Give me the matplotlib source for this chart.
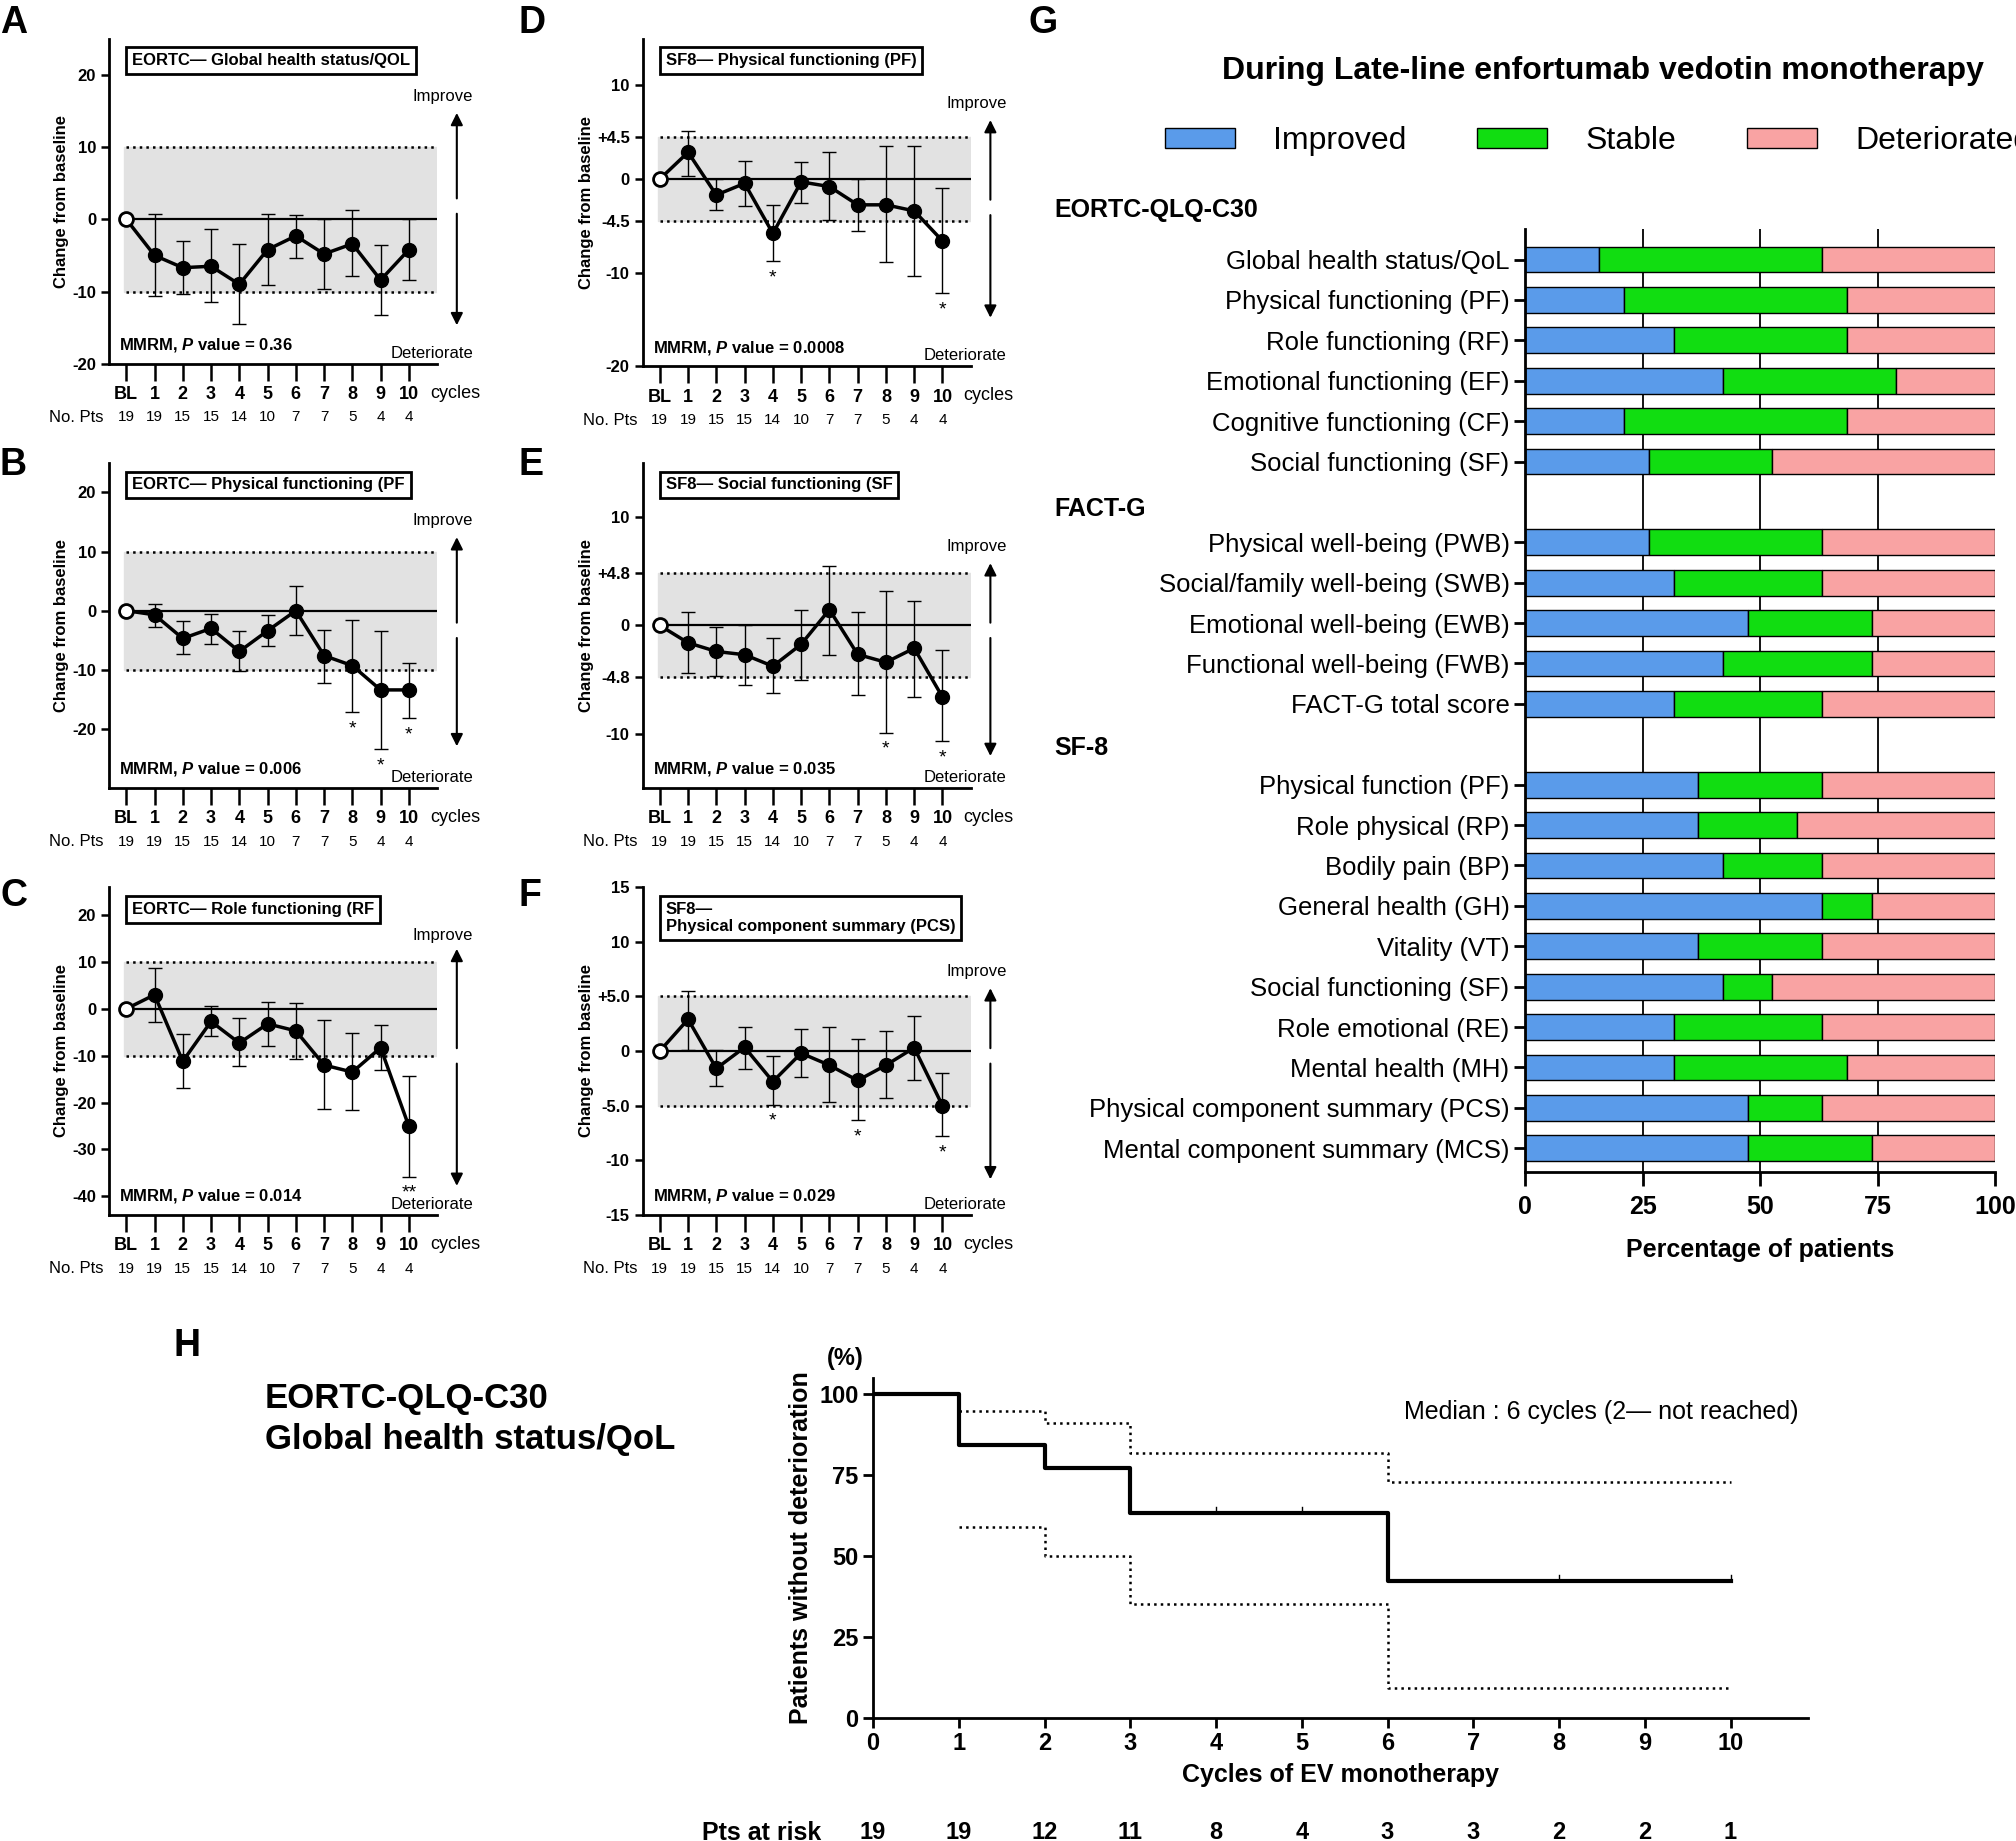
import matplotlib
matplotlib.use("Agg")
import matplotlib.pyplot as plt
import matplotlib.transforms as mtrans
from matplotlib.patches import Patch
import numpy as np

plt.rcParams['font.family'] = ['Liberation Sans', 'DejaVu Sans']
plt.rcParams['mathtext.fontset'] = 'custom'
plt.rcParams['mathtext.it'] = 'Liberation Sans:italic:bold'
plt.rcParams['mathtext.rm'] = 'Liberation Sans:bold'

cycles = ['BL', '1', '2', '3', '4', '5', '6', '7', '8', '9', '10']
n_pts = [19, 19, 15, 15, 14, 10, 7, 7, 5, 4, 4]

# Panel A
A_mean = [0, -5, -6.7, -6.5, -9, -4.2, -2.3, -4.8, -3.4, -8.4, -4.2]
A_up = [0, 0.7, -3, -1.3, -3.4, 0.7, 0.6, 0, 1.3, -3.6, 0]
A_lo = [0, -10.6, -10.3, -11.5, -14.5, -9.1, -5.4, -9.6, -7.9, -13.2, -8.4]
# Panel B
B_mean = [0, -0.7, -4.7, -3, -6.9, -3.4, 0, -7.6, -9.3, -13.4, -13.4]
B_up = [0, 1.2, -1.7, -0.5, -3.4, -0.7, 4.1, -3.2, -1.6, -3.5, -8.8]
B_lo = [0, -2.8, -7.3, -5.7, -10.2, -6, -4.1, -12.2, -17.2, -23.4, -18.2]
# Panel C
C_mean = [0, 3, -11.2, -2.7, -7.3, -3.2, -4.7, -12, -13.5, -8.3, -25.1]
C_up = [0, 8.8, -5.3, 0.6, -2, 1.5, 1.3, -2.4, -5.2, -3.5, -14.3]
C_lo = [0, -2.9, -17, -5.8, -12.3, -8, -10.8, -21.3, -21.5, -13.1, -35.8]
# Panel D
D_mean = [0, 2.86, -1.7, -0.46, -5.8, -0.3, -0.8, -2.75, -2.75, -3.4, -6.6]
D_up = [0, 5.1, 0, 1.9, -2.8, 1.8, 2.9, 0, 3.5, 3.5, -1]
D_lo = [0, 0.36, -3.3, -2.9, -8.8, -2.6, -4.4, -5.5, -8.9, -10.3, -12.2]
# Panel E
E_mean = [0, -1.6, -2.4, -2.7, -3.76, -1.74, 1.46, -2.67, -3.4, -2.1, -6.6]
E_up = [0, 1.2, -0.1, 0.06, -1.2, 1.46, 5.5, 1.2, 3.2, 2.3, -2.3]
E_lo = [0, -4.35, -4.7, -5.5, -6.2, -5, -2.7, -6.4, -9.9, -6.6, -10.7]
# Panel F
F_mean = [0, 2.9, -1.6, 0.34, -2.8, -0.2, -1.3, -2.7, -1.3, 0.3, -5]
F_up = [0, 5.5, 0.1, 2.2, -0.43, 2, 2.2, 1.1, 1.8, 3.2, -2]
F_lo = [0, 0.1, -3.2, -1.65, -4.9, -2.4, -4.7, -6.3, -4.3, -2.7, -7.8]

# Panel G
g_labels = ['Global health status/QoL', 'Physical functioning (PF)', 'Role functioning (RF)',
            'Emotional functioning (EF)', 'Cognitive functioning (CF)', 'Social functioning (SF)',
            'Physical well-being (PWB)', 'Social/family well-being (SWB)', 'Emotional well-being (EWB)',
            'Functional well-being (FWB)', 'FACT-G total score',
            'Physical function (PF)', 'Role physical (RP)', 'Bodily pain (BP)', 'General health (GH)',
            'Vitality (VT)', 'Social functioning (SF)', 'Role emotional (RE)', 'Mental health (MH)',
            'Physical component summary (PCS)', 'Mental component summary (MCS)']
g_improved = [15.8, 21.1, 31.6, 42.1, 21.1, 26.3, 26.3, 31.6, 47.4, 42.1, 31.6,
              36.8, 36.8, 42.1, 63.2, 36.8, 42.1, 31.6, 31.6, 47.4, 47.4]
g_stable = [47.4, 47.4, 36.8, 36.8, 47.4, 26.3, 36.8, 31.6, 26.3, 31.6, 31.6,
            26.3, 21.1, 21.1, 10.5, 26.3, 10.5, 31.6, 36.8, 15.8, 26.3]
g_sections = ['EORTC-QLQ-C30', 'FACT-G', 'SF-8']
g_section_sizes = [6, 5, 10]

# Panel H
km_t = [0, 1, 2, 3, 6, 10]
km_s = [100, 84.2, 77.2, 63.2, 42.1, 42.1]
ci_t = [1, 2, 3, 6, 10]
ci_up = [95, 91, 82, 73, 73]
ci_lo = [59, 50, 35, 9, 9]
censor_t = [4, 5, 8, 10]
risk = [19, 19, 12, 11, 8, 4, 3, 3, 2, 2, 1]

W, H = 2016, 1841
fig = plt.figure(figsize=(W / 100, H / 100), dpi=100)


def fx(px):
    return px / 1568


def fy(py):
    return 1 - py / 1432


def line_panel(rect, mean, up, lo, ylim, yticks, ylabels, band, title, pval, stars, starsym,
               arrow_top, arrow_bot, improve_y):
    ax = fig.add_axes(rect)
    x = np.arange(len(mean))
    ax.axhspan(-band, band, color='#e2e2e2', zorder=0, xmin=0.045, xmax=1)
    ax.plot([0, 11], [band, band], ls=':', color='k', lw=1.8, zorder=1)
    ax.plot([0, 11], [-band, -band], ls=':', color='k', lw=1.8, zorder=1)
    ax.plot([0, 11], [0, 0], color='k', lw=1.6, zorder=1)
    m = np.array(mean); u = np.array(up); l = np.array(lo)
    ax.errorbar(x[1:], m[1:], yerr=[m[1:] - l[1:], u[1:] - m[1:]], fmt='none', ecolor='k',
                elinewidth=1, capsize=5, capthick=1, zorder=2)
    ax.plot(x, m, color='k', lw=2.5, zorder=3)
    ax.plot(x[1:], m[1:], 'o', color='k', ms=10, zorder=4)
    ax.plot([0], [0], 'o', mfc='white', mec='k', mew=2, ms=10, zorder=5)
    ax.set_xlim(-0.6, 11)
    ax.set_ylim(*ylim)
    ax.set_yticks(yticks)
    ax.set_yticklabels(ylabels, fontweight='bold', fontsize=12)
    ax.set_xticks(x)
    ax.set_xticklabels(cycles, fontweight='bold', fontsize=13)
    ax.tick_params(axis='x', length=12, width=1.8, pad=4)
    ax.tick_params(axis='y', length=6, width=1.8)
    for s in ['top', 'right']:
        ax.spines[s].set_visible(False)
    for s in ['left', 'bottom']:
        ax.spines[s].set_linewidth(2)
    ax.set_ylabel('Change from baseline', fontweight='bold', fontsize=12, labelpad=2)
    tr = mtrans.blended_transform_factory(ax.transData, ax.transAxes)
    ax.text(10.75, -0.09, 'cycles', transform=tr, fontsize=13, va='center')
    ax.text(-0.8, -0.165, 'No. Pts', transform=tr, fontsize=12, va='center', ha='right')
    for xi, n in zip(x, n_pts):
        ax.text(xi, -0.165, str(n), transform=tr, fontsize=11, ha='center', va='center')
    ax.text(0.07, 0.955, title, transform=ax.transAxes, fontsize=12, fontweight='bold', va='top',
            bbox=dict(boxstyle='square,pad=0.35', fc='white', ec='k', lw=2))
    ax.text(0.03, 0.03, 'MMRM, $\\it{P}$ value = ' + pval, transform=ax.transAxes,
            fontsize=12, fontweight='bold', va='bottom')
    rng = ylim[1] - ylim[0]
    for s in stars:
        ax.text(s, lo[s] - 0.025 * rng, starsym, ha='center', va='top', fontsize=14)
    ax.annotate('', xy=(1.06, arrow_top), xytext=(1.06, 0.5), xycoords='axes fraction',
                arrowprops=dict(arrowstyle='-|>', color='k', lw=1.5, mutation_scale=18))
    ax.annotate('', xy=(1.06, arrow_bot), xytext=(1.06, 0.47), xycoords='axes fraction',
                arrowprops=dict(arrowstyle='-|>', color='k', lw=1.5, mutation_scale=18))
    ax.text(1.11, improve_y, 'Improve', transform=ax.transAxes, fontsize=12, ha='right', va='bottom')
    ax.text(1.11, 0.01, 'Deteriorate', transform=ax.transAxes, fontsize=12, ha='right', va='bottom')
    return ax


def rect(x0, x1, y0, y1):
    return [fx(x0), fy(y1), fx(x1) - fx(x0), fy(y0) - fy(y1)]


line_panel(rect(85, 340, 30, 283), A_mean, A_up, A_lo, (-20, 25), [-20, -10, 0, 10, 20],
           ['-20', '-10', '0', '10', '20'], 10, 'EORTC\u2014 Global health status/QOL', '0.36', [], '*',
           0.78, 0.11, 0.8)
line_panel(rect(500, 755, 30, 285), D_mean, D_up, D_lo, (-20, 15), [-20, -10, -4.5, 0, 4.5, 10],
           ['-20', '-10', '-4.5', '0', '+4.5', '10'], 4.5, 'SF8\u2014 Physical functioning (PF)', '0.0008',
           [4, 10], '*', 0.76, 0.14, 0.78)
line_panel(rect(85, 340, 360, 613), B_mean, B_up, B_lo, (-30, 25), [-20, -10, 0, 10, 20],
           ['-20', '-10', '0', '10', '20'], 10, 'EORTC\u2014 Physical functioning (PF', '0.006',
           [8, 9, 10], '*', 0.78, 0.12, 0.8)
line_panel(rect(500, 755, 360, 613), E_mean, E_up, E_lo, (-15, 15), [-10, -4.8, 0, 4.8, 10],
           ['-10', '-4.8', '0', '+4.8', '10'], 4.8, 'SF8\u2014 Social functioning (SF', '0.035',
           [8, 10], '*', 0.7, 0.09, 0.72)
line_panel(rect(85, 340, 690, 945), C_mean, C_up, C_lo, (-44, 26), [-40, -30, -20, -10, 0, 10, 20],
           ['-40', '-30', '-20', '-10', '0', '10', '20'], 10, 'EORTC\u2014 Role functioning (RF', '0.014',
           [10], '**', 0.82, 0.08, 0.83)
line_panel(rect(500, 755, 690, 945), F_mean, F_up, F_lo, (-15, 15), [-15, -10, -5, 0, 5, 10, 15],
           ['-15', '-10', '-5.0', '0', '+5.0', '10', '15'], 5, 'SF8\u2014\nPhysical component summary (PCS)',
           '0.029', [4, 7, 10], '*', 0.7, 0.1, 0.72)

# Panel G
axg = fig.add_axes(rect(1186, 1552, 178, 912))
ypos = []
start = 0
for size in g_section_sizes:
    ypos.extend(range(start, start + size))
    start += size + 1
ypos = np.array(ypos)
imp = np.array(g_improved); stb = np.array(g_stable); det = 100 - imp - stb
for xv in [25, 50, 75]:
    axg.axvline(xv, color='k', lw=1.3, zorder=0)
kw = dict(height=0.64, edgecolor='k', linewidth=1, zorder=2)
axg.barh(ypos, imp, color='#5a9bea', **kw)
axg.barh(ypos, stb, left=imp, color='#11dd11', **kw)
axg.barh(ypos, det, left=imp + stb, color='#f9a3a3', **kw)
axg.set_ylim(22.6, -0.76)
axg.set_xlim(0, 100)
axg.set_yticks(ypos)
axg.set_yticklabels(g_labels, fontsize=18.5)
axg.set_xticks([0, 25, 50, 75, 100])
axg.set_xticklabels(['0', '25', '50', '75', '100'], fontweight='bold', fontsize=18)
axg.tick_params(axis='y', length=8, width=2, pad=3)
axg.tick_params(axis='x', length=10, width=2, pad=6)
for s in ['top', 'right']:
    axg.spines[s].set_visible(False)
for s in ['left', 'bottom']:
    axg.spines[s].set_linewidth(2)
axg.set_xlabel('Percentage of patients', fontweight='bold', fontsize=18, labelpad=14)
for name, py in zip(g_sections, [163, 396, 582]):
    fig.text(fx(820), fy(py), name, fontweight='bold', fontsize=18, va='center')
fig.text(fx(1247), fy(55), 'During Late-line enfortumab vedotin monotherapy', fontweight='bold',
         fontsize=23, ha='center', va='center')
handles = [Patch(fc='#5a9bea', ec='k'), Patch(fc='#11dd11', ec='k'), Patch(fc='#f9a3a3', ec='k')]
fig.legend(handles, ['Improved', 'Stable', 'Deteriorated'], ncol=3, loc='center',
           bbox_to_anchor=(fx(1243), fy(110)), frameon=False, fontsize=23,
           handlelength=2.2, handleheight=0.6, columnspacing=2.2, handletextpad=1.2)

# Panel H
axh = fig.add_axes(rect(679, 1406, 1072, 1336))
axh.step(km_t, km_s, where='post', color='k', lw=3)
axh.step(ci_t, ci_up, where='post', color='k', lw=1.8, ls=':')
axh.step(ci_t, ci_lo, where='post', color='k', lw=1.8, ls=':')
for ct in censor_t:
    sv = km_s[np.searchsorted(km_t, ct, side='right') - 1]
    axh.plot([ct, ct], [sv, sv + 2], color='k', lw=1)
axh.set_xlim(0, 10.9)
axh.set_ylim(0, 105)
axh.set_xticks(range(11))
axh.set_xticklabels([str(i) for i in range(11)], fontweight='bold', fontsize=17)
axh.set_yticks([0, 25, 50, 75, 100])
axh.set_yticklabels(['0', '25', '50', '75', '100'], fontweight='bold', fontsize=17)
axh.tick_params(length=7, width=2)
for s in ['top', 'right']:
    axh.spines[s].set_visible(False)
for s in ['left', 'bottom']:
    axh.spines[s].set_linewidth(2)
axh.set_xlabel('Cycles of EV monotherapy', fontweight='bold', fontsize=18, labelpad=6)
axh.set_ylabel('Patients without deterioration', fontweight='bold', fontsize=18)
axh.text(-0.03, 1.04, '(%)', transform=axh.transAxes, fontweight='bold', fontsize=17, ha='center')
axh.text(0.99, 0.9, 'Median : 6 cycles (2\u2014 not reached)', transform=axh.transAxes,
         fontsize=18, ha='right', va='center')
trh = mtrans.blended_transform_factory(axh.transData, axh.transAxes)
axh.text(-0.6, -0.34, 'Pts at risk', transform=trh, fontweight='bold', fontsize=18, ha='right', va='center')
for i, r in enumerate(risk):
    axh.text(i, -0.34, str(r), transform=trh, fontweight='bold', fontsize=17, ha='center', va='center')
fig.text(fx(206), fy(1104), 'EORTC-QLQ-C30\nGlobal health status/QoL', fontweight='bold',
         fontsize=25, va='center', linespacing=1.3)

for L, px, py in [('A', 0, 18), ('D', 403, 18), ('G', 800, 18), ('B', 0, 362), ('E', 403, 362),
                  ('C', 0, 697), ('F', 403, 697), ('H', 135, 1047)]:
    fig.text(fx(px), fy(py), L, fontweight='bold', fontsize=27, va='center')

fig.savefig('out.png', dpi=100)
